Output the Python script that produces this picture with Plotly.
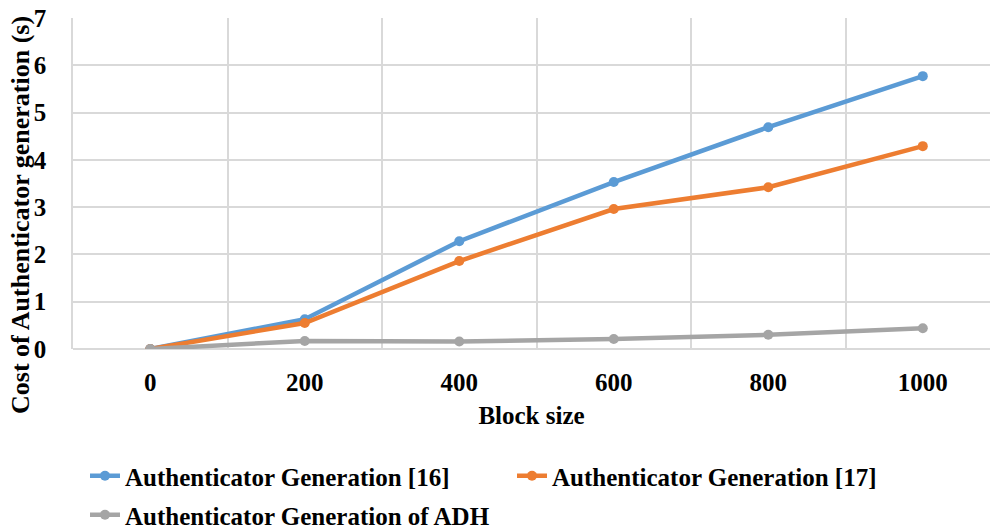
import plotly.graph_objects as go

block_sizes = ["0", "200", "400", "600", "800", "1000"]
gen16 = [0, 0.63, 2.28, 3.53, 4.69, 5.77]
gen17 = [0, 0.55, 1.86, 2.96, 3.42, 4.29]
adh = [0, 0.17, 0.16, 0.21, 0.30, 0.44]

names = ["Authenticator Generation [16]", "Authenticator Generation [17]", "Authenticator Generation of ADH"]
colors = ["#5B9BD5", "#ED7D31", "#A5A5A5"]
series = [gen16, gen17, adh]
legend_ids = ["legend", "legend2", "legend3"]
y_title = "Cost of Authenticator generation (s)"

font_family = "Liberation Serif"
FS = 25

fig = go.Figure()
for name, color, vals, lg in zip(names, colors, series, legend_ids):
    fig.add_trace(go.Scatter(
        x=block_sizes, y=vals, name=name, mode="lines+markers",
        line=dict(color=color, width=4.5), marker=dict(color=color, size=10),
        legend=lg,
    ))

legend_font = dict(family=font_family, size=FS, color="black", weight="bold")
H = 529
W = 990
L, T, B = 73, 18, 180
plot_w = W - L
plot_h = H - T - B

def leg(xpx, ypx):
    return dict(orientation="h", x=xpx / W, xref="container", xanchor="left",
                y=1 - ypx / H, yref="container", yanchor="middle",
                font=legend_font, bgcolor="rgba(0,0,0,0)")

fig.add_annotation(
    text="<b>" + y_title + "</b>", textangle=-90, showarrow=False,
    xref="paper", yref="paper",
    x=(20 - L) / plot_w, y=(H - B - 215) / plot_h,
    xanchor="center", yanchor="middle",
    font=dict(family=font_family, size=26, color="black"),
)

fig.update_layout(
    width=W, height=H,
    margin=dict(l=L, r=0, t=T, b=B),
    plot_bgcolor="white", paper_bgcolor="white",
    font=dict(family=font_family, size=FS, color="black"),
    showlegend=True,
    legend=leg(85, 476),
    legend2=leg(512, 476),
    legend3=leg(85, 515),
    xaxis=dict(type="category", range=[-0.5, 5.435], tickson="boundaries",
               showgrid=True, gridcolor="#D9D9D9", gridwidth=1.5,
               showline=False, zeroline=False, ticks="",
               ticklabelstandoff=16,
               tickfont=dict(family=font_family, size=FS, weight="bold"),
               title=dict(text="<b>Block size</b>", font=dict(family=font_family, size=FS), standoff=11)),
    yaxis=dict(range=[0, 7], dtick=1, showgrid=True, gridcolor="#D9D9D9", gridwidth=1.5,
               zeroline=True, zerolinecolor="#D9D9D9", zerolinewidth=1.5,
               showline=True, linecolor="#D9D9D9", linewidth=1.5, ticks="",
               ticklabelstandoff=20,
               tickfont=dict(family=font_family, size=FS, weight="bold")),
)

fig.write_html("out.html")
